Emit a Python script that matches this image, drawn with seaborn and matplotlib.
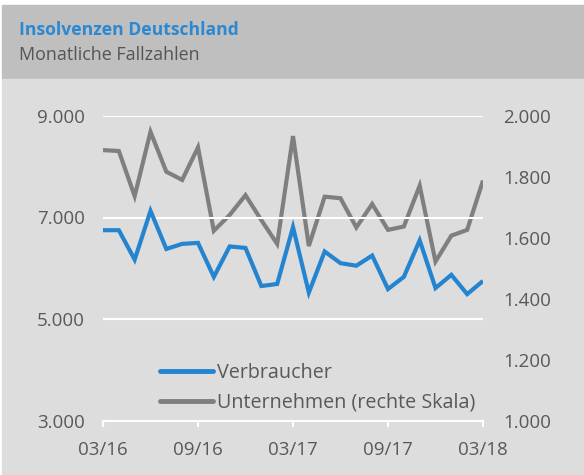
import matplotlib
matplotlib.use("Agg")
import matplotlib.pyplot as plt
import seaborn as sns
import pandas as pd
from matplotlib.patches import Rectangle

# ---- data ----
months = list(range(25))  # 03/16 .. 03/18
tick_pos = [0, 6, 12, 18, 24]
tick_labels = ["03/16", "09/16", "03/17", "09/17", "03/18"]
verbraucher = [6750, 6750, 6170, 7130, 6380, 6480, 6500, 5830, 6430, 6400,
               5650, 5690, 6810, 5520, 6330, 6100, 6050, 6250, 5590, 5830,
               6550, 5610, 5870, 5490, 5750]
unternehmen = [1888, 1885, 1737, 1948, 1817, 1790, 1897, 1623, 1675, 1740,
               1658, 1580, 1934, 1573, 1735, 1730, 1634, 1711, 1626, 1637,
               1771, 1522, 1607, 1626, 1788]
left_ticks = [3000, 5000, 7000, 9000]
left_labels = ["3.000", "5.000", "7.000", "9.000"]
right_ticks = [1000, 1200, 1400, 1600, 1800, 2000]
right_labels = ["1.000", "1.200", "1.400", "1.600", "1.800", "2.000"]

df = pd.DataFrame({"Monat": months, "Verbraucher": verbraucher,
                   "Unternehmen": unternehmen})

sns.set_theme(style="white")
plt.rcParams["font.family"] = ["Open Sans", "DejaVu Sans"]

W, H = 584, 475
fig = plt.figure(figsize=(W / 100, H / 100), dpi=100)
fig.patch.set_facecolor("white")

# background bands
fig.patches.append(Rectangle((2 / W, (H - 79) / H), 1 - 2 / W, 74 / H,
                             transform=fig.transFigure, color="#bfbfbf", zorder=0))
fig.patches.append(Rectangle((2 / W, (H - 474) / H), 1 - 2 / W, 395 / H,
                             transform=fig.transFigure, color="#dddddd", zorder=0))

fig.text(19 / W, 1 - 35 / H, "Insolvenzen Deutschland", color="#2b88d2",
         fontsize=12.6, fontweight="bold", va="baseline", ha="left")
fig.text(19 / W, 1 - 60 / H, "Monatliche Fallzahlen", color="#555555",
         fontsize=12.9, va="baseline", ha="left")

ax = fig.add_axes([103 / W, (H - 420.5) / H, 380 / W, 304.5 / H])
ax.set_facecolor("none")
ax2 = ax.twinx()

blue = "#2484cf"
grey = "#7f7f7f"
sns.lineplot(data=df, x="Monat", y="Verbraucher", ax=ax, color=blue,
             linewidth=3.0, label="Verbraucher", legend=False)
sns.lineplot(data=df, x="Monat", y="Unternehmen", ax=ax2, color=grey,
             linewidth=3.0, label="Unternehmen (rechte Skala)", legend=False)
for l in ax.lines + ax2.lines:
    l.set_solid_joinstyle("miter")
    l.set_solid_capstyle("butt")

ax.set_xlim(0, 24)
ax.set_ylim(3000, 9000)
ax2.set_ylim(1000, 2000)
ax.set_xticks(tick_pos)
ax.set_xticklabels(tick_labels)
ax.set_yticks(left_ticks)
ax.set_yticklabels(left_labels)
ax2.set_yticks(right_ticks)
ax2.set_yticklabels(right_labels)
ax.set_xlabel("")
ax.set_ylabel("")
ax2.set_ylabel("")

txt = "#595959"
for a in (ax, ax2):
    for s in a.spines.values():
        s.set_visible(False)
    a.tick_params(axis="y", length=0, labelsize=13.5, labelcolor=txt)
ax.tick_params(axis="y", pad=13)
ax2.tick_params(axis="y", pad=14.4)
ax.spines["bottom"].set_visible(True)
ax.spines["bottom"].set_color("white")
ax.spines["bottom"].set_linewidth(1.5)
ax.tick_params(axis="x", length=4, width=1.5, color="white", direction="out",
               labelsize=13.5, labelcolor=txt, pad=10.5, bottom=True)
ax.grid(False)
ax2.grid(False)
for y in [5000, 7000, 9000]:
    ax.axhline(y, color="white", linewidth=1.5, zorder=0)
ax2.set_zorder(3)
ax2.patch.set_visible(False)
ax.set_zorder(4)
ax.patch.set_visible(False)

handles = ax.lines[:1] + ax2.lines[:1]
leg = fig.legend(handles, ["Verbraucher", "Unternehmen (rechte Skala)"],
                 loc="center left", bbox_to_anchor=(160 / W, (H - 388) / H),
                 frameon=False, fontsize=14.2, handlelength=2.7,
                 handletextpad=0.2, labelspacing=0.5, borderpad=0,
                 borderaxespad=0)
for t in leg.get_texts():
    t.set_color(txt)
for lh in leg.get_lines():
    lh.set_linewidth(3.5)
    lh.set_solid_capstyle("round")

fig.savefig("out.png", dpi=100, facecolor="white")
